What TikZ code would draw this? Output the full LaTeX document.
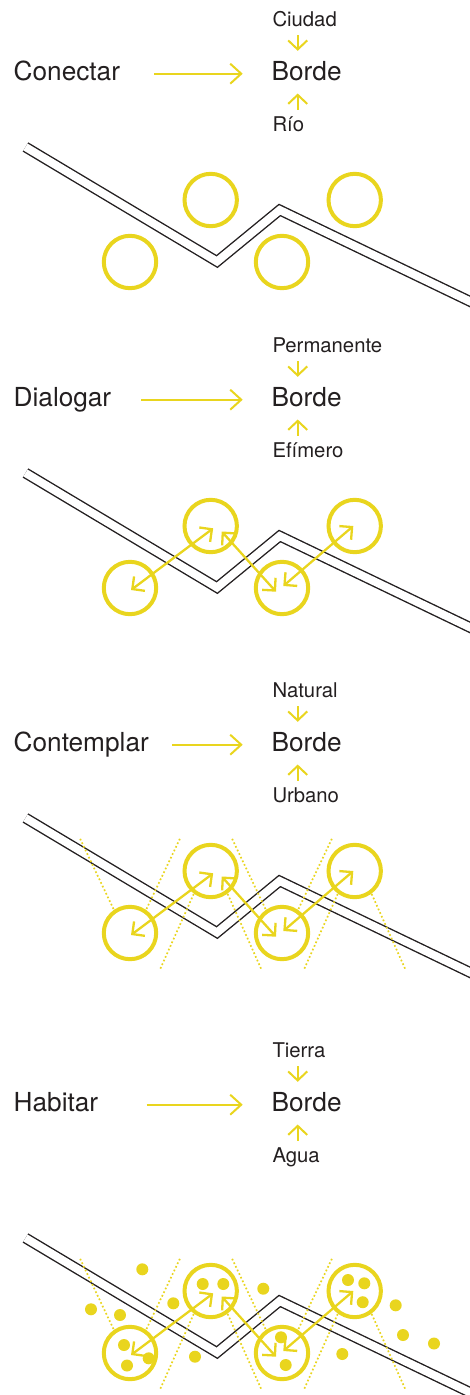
\documentclass[tikz,border=0pt]{standalone}
\usepackage{fontspec}
\setmainfont{TeX Gyre Heros}
\usetikzlibrary{arrows.meta,positioning}
\definecolor{ink}{RGB}{35,31,32}
\definecolor{amarillo}{RGB}{233,213,30}

\begin{document}
\begin{tikzpicture}[x=1pt,y=-1pt,
    bigtext/.style={inner sep=0pt,anchor=base west,text=ink,font=\fontsize{26.2}{30}\selectfont,text height=12.6pt,text depth=0pt},
    smalltext/.style={inner sep=0pt,anchor=base west,text=ink,font=\fontsize{20.3}{24}\selectfont,text height=14.5pt,text depth=0pt},
    bigarrow/.style={draw=amarillo,line width=2pt,-{Straight Barb[length=11pt,width=20pt]}},
    smallarrow/.style={draw=amarillo,line width=2pt,-{Straight Barb[length=9pt,width=19pt]}},
    dblarrow/.style={draw=amarillo,line width=2.3pt,{Straight Barb[length=9pt,width=18pt]}-{Straight Barb[length=9pt,width=18pt]}},
    bordeline/.style={draw=ink,line width=1.4pt,double=white,double distance=8pt},
    anillo/.style={circle,draw=amarillo,line width=4pt,minimum size=52.4pt,inner sep=0pt},
    mirada/.style={draw=amarillo,line width=1.7pt,dash pattern=on 1.7pt off 2.3pt},
    punto/.style={fill=amarillo}
]
\path[use as bounding box,clip] (0,0) rectangle (470,1395);

\foreach \lab/\arriba/\abajo/\dy/\gap [count=\i] in {Conectar/Ciudad/Río/0/34.2pt,Dialogar/Permanente/Efímero/326/29.7pt,Contemplar/Natural/Urbano/671/23.4pt,Habitar/Tierra/Agua/1031/48.3pt}{
  \node[bigtext] (lab\i) at (13.5,80+\dy) {\lab};
  \node[bigtext] (borde\i) at (271.5,80+\dy) {Borde};
  \node[smalltext] (arriba\i) at (272.3,26.7+\dy) {\arriba};
  \node[smalltext] (abajo\i) at (272.3,131.7+\dy) {\abajo};
  \draw[bigarrow] ([xshift=\gap]lab\i.east) -- ([xshift=-28.8pt]borde\i.west);
  \draw[smallarrow] ([xshift=25.4pt,yshift=-8.3pt]arriba\i.south west) -- ([xshift=26.2pt,yshift=16.4pt]borde\i.north west);
  \draw[smallarrow] ([xshift=25.4pt,yshift=7.2pt]abajo\i.north west) -- ([xshift=26.2pt,yshift=-13.3pt]borde\i.south west);
}

\begin{scope}
  \draw[bordeline] (25.5,147) -- (217,261.5) -- (279.7,210) -- (490,311);
  \foreach \n/\p in {1/{(210.7,200)},2/{(354.7,200)},3/{(130,262)},4/{(282,262)}}
    \node[anillo] (a\n) at \p {};
\end{scope}

\begin{scope}[shift={(0,326)}]
  \draw[bordeline] (25.5,147) -- (217,261.5) -- (279.7,210) -- (490,311);
  \foreach \n/\p in {1/{(210.7,200)},2/{(354.7,200)},3/{(130,262)},4/{(282,262)}}
    \node[anillo] (b\n) at \p {};
  \draw[dblarrow] ([shift={(1,2)}]b3.center) -- ([shift={(2.5,2.3)}]b1.center);
  \draw[dblarrow] ([shift={(11,5.5)}]b1.center) -- ([shift={(-6,3.7)}]b4.center);
  \draw[dblarrow] ([shift={(1.3,-2)}]b4.center) -- ([shift={(-1.4,0)}]b2.center);
\end{scope}

\begin{scope}[shift={(0,671)}]
  \draw[bordeline] (25.5,147) -- (217,261.5) -- (279.7,210) -- (490,311);
  \foreach \n/\p in {1/{(210.7,200)},2/{(354.7,200)},3/{(130,262)},4/{(282,262)}}
    \node[anillo] (c\n) at \p {};
  \foreach \n in {1,2}{
    \draw[mirada] ([shift={(-17,23)}]c\n.center) -- ([shift={(-50.5,98)}]c\n.center);
    \draw[mirada] ([shift={(17,23)}]c\n.center) -- ([shift={(50.5,98)}]c\n.center);
  }
  \foreach \n in {3,4}{
    \draw[mirada] ([shift={(-16.5,-24)}]c\n.center) -- ([shift={(-50.5,-95.5)}]c\n.center);
    \draw[mirada] ([shift={(16.5,-24)}]c\n.center) -- ([shift={(50.5,-95.5)}]c\n.center);
  }
  \draw[dblarrow] ([shift={(1,2)}]c3.center) -- ([shift={(2.5,2.3)}]c1.center);
  \draw[dblarrow] ([shift={(11,5.5)}]c1.center) -- ([shift={(-6,3.7)}]c4.center);
  \draw[dblarrow] ([shift={(1.3,-2)}]c4.center) -- ([shift={(-1.4,0)}]c2.center);
\end{scope}

\begin{scope}[shift={(0,1091)}]
  \draw[bordeline] (25.5,147) -- (217,261.5) -- (279.7,210) -- (490,311);
  \foreach \n/\p in {1/{(210.7,200)},2/{(354.7,200)},3/{(130,262)},4/{(282,262)}}
    \node[anillo] (d\n) at \p {};
  \foreach \n in {1,2}{
    \draw[mirada] ([shift={(-17,23)}]d\n.center) -- ([shift={(-50.5,98)}]d\n.center);
    \draw[mirada] ([shift={(17,23)}]d\n.center) -- ([shift={(50.5,98)}]d\n.center);
  }
  \foreach \n in {3,4}{
    \draw[mirada] ([shift={(-16.5,-24)}]d\n.center) -- ([shift={(-50.5,-95.5)}]d\n.center);
    \draw[mirada] ([shift={(16.5,-24)}]d\n.center) -- ([shift={(50.5,-95.5)}]d\n.center);
  }
  \foreach \p in {(142.3,178.3),(91,218.3),(120,224),(173.3,212.3),(202.7,193),(223.3,193),(263.3,197.7),(124,254),(148.7,267.3),(127,274.5),(195,265.7),(281,246.3),(285.7,274),(342.3,263),(348,189),(364.3,192.3),(362.7,211.2),(395.7,214.3),(403,244),(434,252.5)}
    \fill[punto] \p circle (6);
  \draw[dblarrow] ([shift={(1,2)}]d3.center) -- ([shift={(2.5,2.3)}]d1.center);
  \draw[dblarrow] ([shift={(11,5.5)}]d1.center) -- ([shift={(-6,3.7)}]d4.center);
  \draw[dblarrow] ([shift={(1.3,-2)}]d4.center) -- ([shift={(-1.4,0)}]d2.center);
\end{scope}
\end{tikzpicture}
\end{document}
